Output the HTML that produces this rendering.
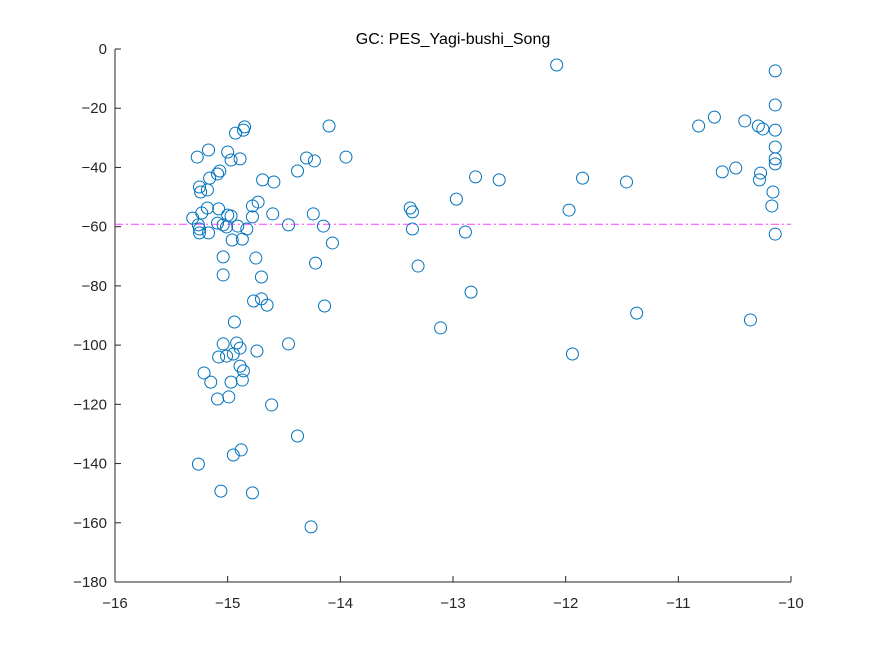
<!DOCTYPE html>
<html><head><meta charset="utf-8"><style>
body{margin:0;background:#fff}
svg{display:block;font-family:"Liberation Sans","Noto Sans CJK JP",sans-serif}
</style></head><body>
<svg id="chart" width="875" height="656"></svg>
<script>
const xs = [-12.08,-10.14,-10.14,-10.68,-10.82,-10.41,-10.29,-10.25,-10.14,-10.14,-10.14,-10.14,-10.27,-10.28,-10.49,-10.61,-11.46,-11.85,-12.59,-12.80,-12.97,-11.97,-10.16,-10.17,-10.14,-12.89,-13.38,-13.36,-13.36,-13.31,-12.84,-13.11,-11.37,-10.36,-11.94,
-14.10,-13.95,-14.30,-14.23,-14.38,-14.69,-14.59,-14.73,-14.78,-14.78,-14.60,-14.46,-14.24,-14.15,-14.07,-14.22,-14.75,-15.04,-14.70,-15.04,-14.77,-14.70,-14.65,-14.14,-14.85,-14.86,-14.93,-15.17,-15.27,-15.00,-14.97,-14.89,-15.07,-15.09,-15.16,-15.25,-15.24,-15.18,-15.18,-15.31,-15.23,-15.08,-15.00,-14.97,-15.26,-15.25,-15.25,-15.17,-15.04,-15.01,-14.91,-14.83,-14.96,-14.87,-15.09,-14.94,-15.04,-14.92,-15.08,-15.01,-14.95,-14.89,-14.74,-14.46,-15.21,-15.15,-14.97,-14.89,-14.86,-14.87,-15.09,-14.99,-14.61,-14.38,-14.88,-14.95,-15.26,-15.06,-14.78,-14.26];
const ys = [-5.4,-7.4,-18.9,-23.0,-26.0,-24.3,-26.0,-27.0,-27.4,-33.1,-37.1,-38.8,-41.9,-44.2,-40.2,-41.5,-44.9,-43.6,-44.2,-43.2,-50.7,-54.4,-48.3,-53.0,-62.5,-61.8,-53.7,-55.0,-60.8,-73.3,-82.1,-94.2,-89.2,-91.5,-103.0,
-26.0,-36.5,-36.8,-37.8,-41.2,-44.2,-44.9,-51.7,-53.0,-56.7,-55.7,-59.4,-55.7,-59.8,-65.5,-72.3,-70.6,-70.2,-77.0,-76.3,-85.1,-84.4,-86.5,-86.8,-26.3,-27.4,-28.4,-34.1,-36.5,-34.8,-37.5,-37.1,-41.2,-42.2,-43.6,-46.6,-48.3,-47.6,-53.7,-57.1,-55.4,-54.0,-56.1,-56.4,-59.4,-62.1,-60.8,-62.1,-59.4,-60.1,-59.8,-60.8,-64.5,-64.2,-58.8,-92.2,-99.6,-99.3,-104.0,-103.7,-103.0,-101.0,-102.0,-99.6,-109.4,-112.5,-112.5,-107.1,-108.7,-111.8,-118.2,-117.5,-120.2,-130.7,-135.4,-137.1,-140.2,-149.3,-149.9,-161.4];
const xTicks = [-16,-15,-14,-13,-12,-11,-10];
const yTicks = [0,-20,-40,-60,-80,-100,-120,-140,-160,-180];
const meanValue = [-59.2];
const titleText = "GC: PES_Yagi-bushi_Song";

const L=115,R=791,T=49,B=582;
const sx=v=>L+(v+16)/6*(R-L);
const sy=v=>T+(0-v)/180*(B-T);
const NS="http://www.w3.org/2000/svg";
const svg=document.getElementById('chart');
function mk(t,a,p){const e=document.createElementNS(NS,t);for(const k in a)e.setAttribute(k,a[k]);(p||svg).appendChild(e);return e;}

const ax=mk('g',{});


const xl=mk('line',{x1:L,y1:B,x2:R,y2:B,stroke:'#262626','stroke-width':1},ax);


const yl=mk('line',{x1:L,y1:T,x2:L,y2:B,stroke:'#262626','stroke-width':1},ax);


xTicks.forEach(v=>{
  const x=sx(v);
  mk('line',{x1:x,y1:B,x2:x,y2:B-6,stroke:'#262626'},ax);
  const t=mk('text',{x:x,y:B+26,'text-anchor':'middle','font-size':15,fill:'#262626'},ax);
  t.textContent=String(v).replace('-','−');
  
  
});
yTicks.forEach(v=>{
  const y=sy(v);
  mk('line',{x1:L,y1:y,x2:L+6,y2:y,stroke:'#262626'},ax);
  const t=mk('text',{x:L-8,y:y+5,'text-anchor':'end','font-size':15,fill:'#262626'},ax);
  t.textContent=String(v).replace('-','−');
  
  
});
const ml=mk('line',{x1:L,y1:sy(meanValue[0]),x2:R,y2:sy(meanValue[0]),stroke:'#ff40ff','stroke-width':1,'stroke-dasharray':'8,3,2,3'});


const pts=mk('g',{});


xs.forEach((v,i)=>{
  const c=mk('circle',{cx:sx(v),cy:sy(ys[i]),r:6,fill:'none',stroke:'#0072bd','stroke-width':1},pts);
  
  
});
const tt=mk('text',{x:453,y:44,'text-anchor':'middle','font-size':16,fill:'#000'});
tt.textContent=titleText;


</script>
</body></html>
